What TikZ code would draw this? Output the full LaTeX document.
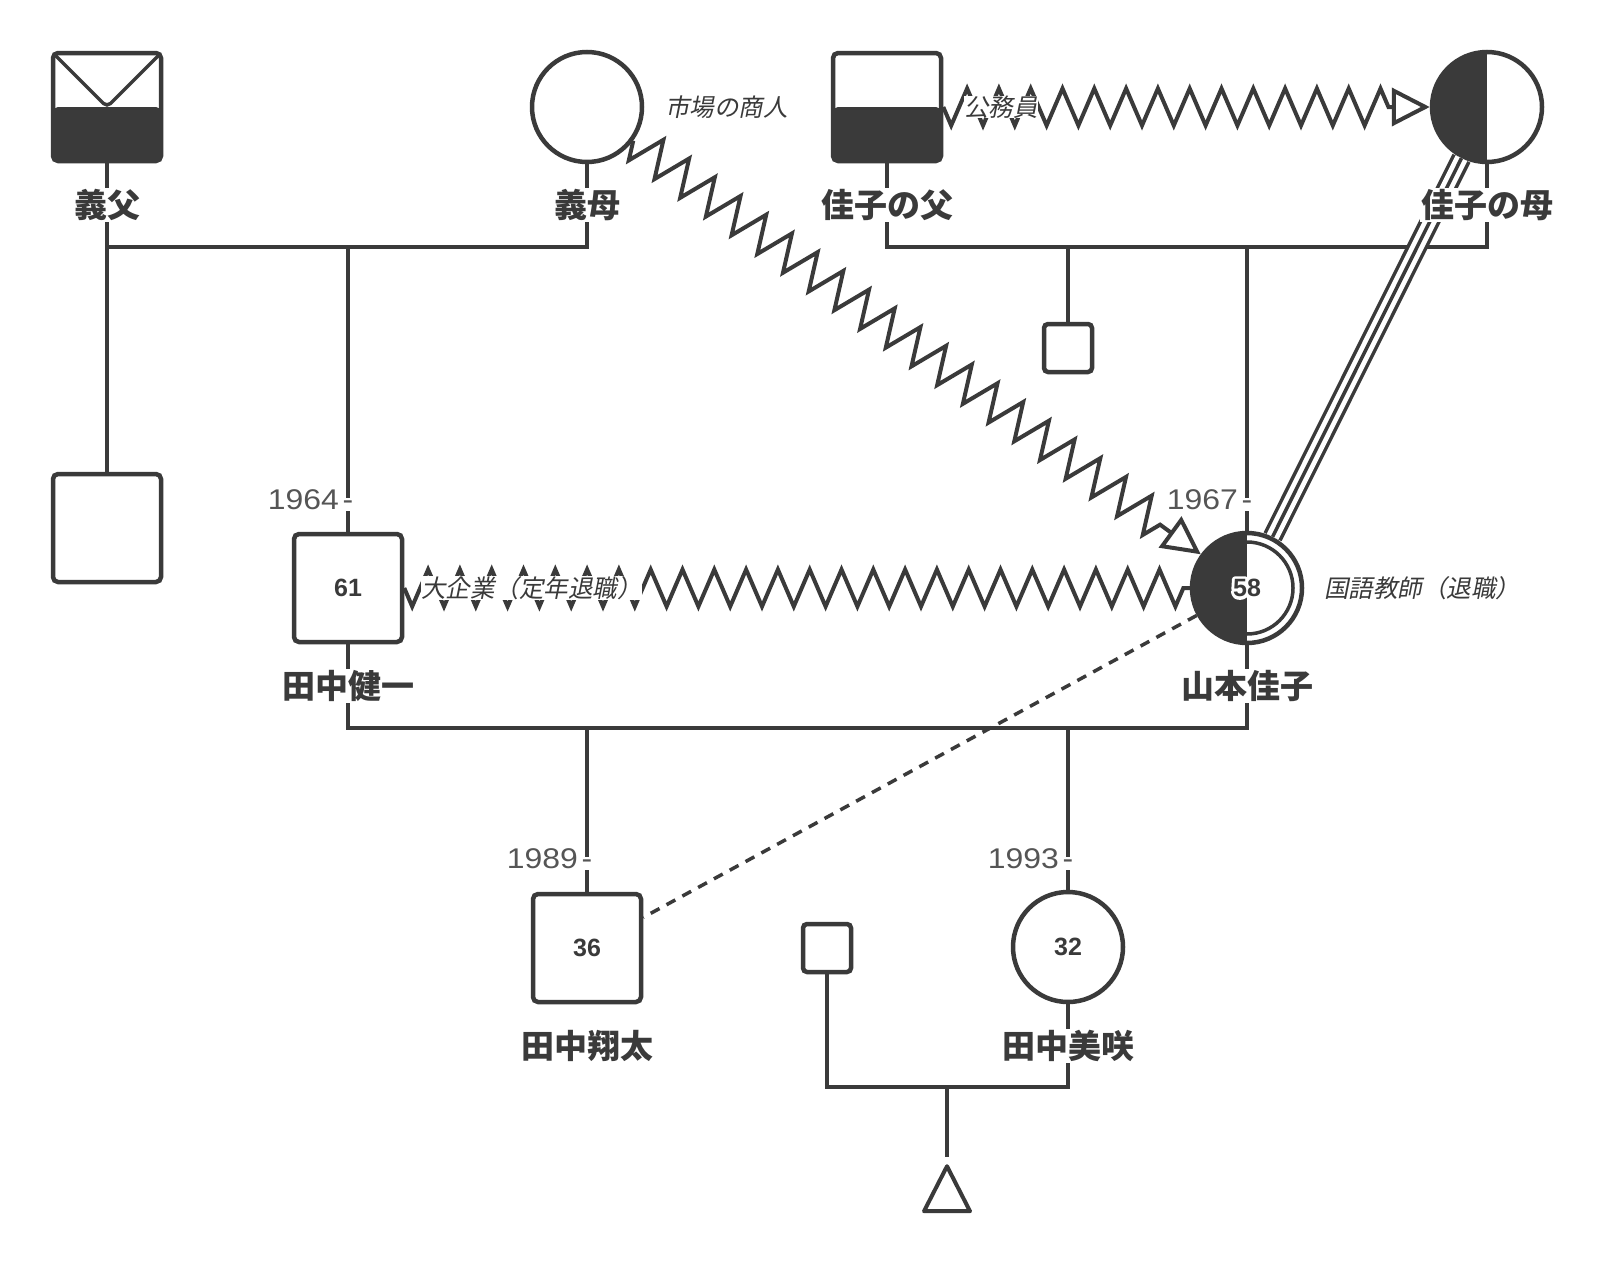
\documentclass[tikz,border=0pt]{standalone}
\usepackage{fontspec}
\setmainfont{Noto Sans CJK JP}
\newfontfamily\slantjp[FakeSlant=0.2]{Noto Sans CJK JP}
\newfontfamily\numfont{Liberation Sans}
\newfontfamily\yearfont[FakeStretch=1.12]{Liberation Sans}
\usepackage{xcolor}
\usetikzlibrary{arrows.meta,positioning,decorations.pathmorphing,shapes.geometric}
\definecolor{ink}{HTML}{3A3A3A}
\definecolor{yeargray}{HTML}{555555}
\newcommand\haloed[1]{\special{pdf:code q 1 Tr 1 1 1 RG 6 w 1 j 1 J}\rlap{#1}\special{pdf:code Q}#1}

\begin{document}
\begin{tikzpicture}[x=1pt,y=-1pt,
  person/.style={draw=ink,line width=4.5pt,fill=white,inner sep=0pt,text=ink,font=\numfont\fontsize{25}{28}\selectfont\bfseries},
  male/.style={person,rectangle,rounded corners=5pt,minimum size=108pt},
  female/.style={person,circle,minimum size=110pt},
  unk/.style={person,rectangle,rounded corners=4pt,minimum size=48pt},
  fillbottom/.style={path picture={\fill[ink] (path picture bounding box.west) rectangle (path picture bounding box.south east);}},
  fillbottomv/.style={path picture={\fill[ink] (path picture bounding box.west) rectangle (path picture bounding box.south east);
    \draw[ink,line width=3.5pt] (path picture bounding box.north west) -- (path picture bounding box.center) -- (path picture bounding box.north east);}},
  fillleft/.style={path picture={\fill[ink] (path picture bounding box.north west) rectangle (path picture bounding box.south);}},
  fillleftring/.style={path picture={\fill[ink] (path picture bounding box.north west) rectangle (path picture bounding box.south);
    \draw[ink,line width=3.5pt] (path picture bounding box.center) ++(90:46pt) arc[start angle=90,end angle=-90,radius=46pt];}},
  ln/.style={draw=ink,line width=4pt},
  zz/.style={ln,decorate,decoration={zigzag,mirror,segment length=31.8pt,amplitude=18.5pt}},
  zzarr/.style={zz,decoration={post length=40pt},-{Triangle[length=38pt,width=38pt,fill=white]}},
  nametag/.style={text=ink,fill=white,inner sep=1pt,font=\fontsize{33}{36}\selectfont\bfseries},
  job/.style={text=ink,inner sep=0pt,anchor=west,font=\slantjp\fontsize{24.5}{27}\selectfont},
  year/.style={text=yeargray,inner sep=0pt,font=\yearfont\fontsize{28.5}{31}\selectfont},
  tick/.style={year,fill=white,inner xsep=0.5pt,inner ysep=2pt,anchor=base}]
\useasboundingbox (0,0) rectangle (1606,1266);
\node[male,fillbottomv] (gfa) at (107,107) {};
\node[female] (gmo) at (587,107) {};
\node[male,fillbottom] (kfa) at (887,107) {};
\node[female,fillleft] (kmo) at (1487,107) {};
\node[male] (sib) at (107,528) {};
\node[unk] (ksib) at (1068,348) {};
\node[male] (ken) at (348,588) {61};
\node[female,fillleftring] (yos) at (1247,588) {\haloed{58}};
\node[male] (sho) at (587,948) {36};
\node[unk] (mip) at (827,948) {};
\node[female] (mis) at (1068,947) {32};
\node[draw=ink,line width=4pt,line join=round,isosceles triangle,shape border rotate=90,isosceles triangle stretches,minimum width=46pt,minimum height=45pt,inner sep=0pt,anchor=apex] (preg) at (947,1161) {};
\coordinate (m1) at (348,247);
\coordinate (m2) at (1068,247);
\coordinate (m3) at (587,728);
\coordinate (m4) at (947,1087);
\draw[ln] (gfa) |- (m1) -| (gmo);
\draw[ln] (m1) -- (ken);
\draw[ln] (gfa) -- (sib);
\draw[ln] (kfa) |- (m2) -| (kmo);
\draw[ln] (m2) -- (ksib);
\draw[ln] (yos |- m2) -- (yos);
\draw[ln] (ken) |- (m3) -| (yos);
\draw[ln] (m3) -- (sho);
\draw[ln] (mis |- m3) -- (mis);
\draw[ln] (mip) |- (m4) -| (mis);
\draw[ln,shorten >=4pt] (m4) -- (preg);
\draw[zzarr] (gmo) -- (yos);
\draw[zzarr] (kfa) -- (kmo);
\draw[zz] (ken) -- (yos);
\draw[ln,line width=3.5pt,double=white,double distance=13pt] (kmo) -- (yos);
\draw[ln,line width=3.5pt] (kmo) -- (yos);
\draw[ln,line width=3.5pt,dash pattern=on 10pt off 8pt] (yos) -- (sho);
\node[nametag] (lgfa) at (107,205) {義父};
\node[nametag] (lgmo) at (587,205) {義母};
\node[nametag] (lkfa) at (887,205) {佳子の父};
\node[nametag] (lkmo) at (1487,205) {佳子の母};
\node[nametag] (lken) at (348,686) {田中健一};
\node[nametag] (lyos) at (1247,686) {山本佳子};
\node[nametag] (lsho) at (587,1046) {田中翔太};
\node[nametag] (lmis) at (1068,1046) {田中美咲};
\node[job] (jgmo) at (665,107) {市場の商人};
\node[job,fill=white] (jkfa) at (964,107) {公務員};
\node[job,fill=white] (jken) at (421,588) {大企業（定年退職）};
\node[job] (jyos) at (1324,588) {国語教師（退職）};
\node[tick] (t1) at (348,509) {-};
\node[year,base left=3pt of t1] (y1) {1964};
\node[tick] (t2) at (1247,509) {-};
\node[year,base left=3pt of t2] (y2) {1967};
\node[tick] (t3) at (587,868) {-};
\node[year,base left=3pt of t3] (y3) {1989};
\node[tick] (t4) at (1068,868) {-};
\node[year,base left=3pt of t4] (y4) {1993};
\end{tikzpicture}
\end{document}
